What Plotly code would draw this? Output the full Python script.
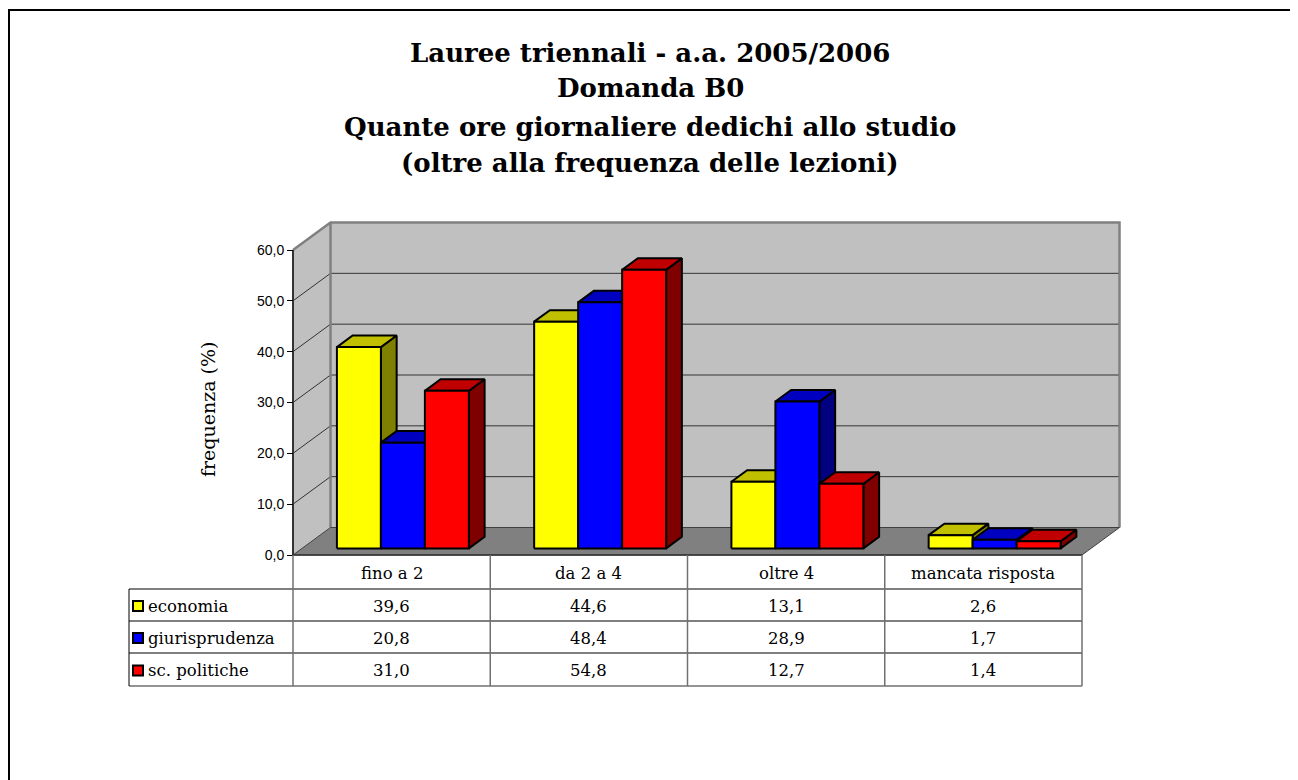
import plotly.graph_objects as go

# ---------------- data ----------------
categories = ["fino a 2", "da 2 a 4", "oltre 4", "mancata risposta"]
series_names = ["economia", "giurisprudenza", "sc. politiche"]
economia = [39.6, 44.6, 13.1, 2.6]
giurisprudenza = [20.8, 48.4, 28.9, 1.7]
sc_politiche = [31.0, 54.8, 12.7, 1.4]
y_ticks = [0, 10, 20, 30, 40, 50, 60]
title_lines = [
    "Lauree triennali - a.a. 2005/2006",
    "Domanda B0",
    "Quante ore giornaliere dedichi allo studio",
    "(oltre alla frequenza delle lezioni)",
]
y_label = "frequenza (%)"

series_values = [economia, giurisprudenza, sc_politiche]
# (front, top, side) colours
series_colors = [
    ("#FFFF00", "#C0C000", "#808000"),
    ("#0000FF", "#0000C0", "#000080"),
    ("#FF0000", "#C00000", "#800000"),
]

# ---------------- geometry (screen pixels; page body has 8px margin) ----------------
W, H = 1298, 780
OFF = 8


def fx(p):  # screen x pixel -> paper fraction
    return (p - OFF) / W


def fy(p):  # screen y pixel -> paper fraction
    return 1 - (p - OFF) / H


X0_PX = 293.0 - OFF      # figure pixel of category 0 (front plane)
CAT_PX = 197.25          # pixels per category
Y0_PX = 555.0 - OFF      # figure pixel of value 0 (front plane)
UNIT_PX = 305.0 / 60.0   # pixels per value unit
x_range = [(0 - X0_PX) / CAT_PX, (W - X0_PX) / CAT_PX]
y_range = [(Y0_PX - H) / UNIT_PX, Y0_PX / UNIT_PX]

DX = 37.5 / CAT_PX       # depth offset in x units
DY = 27.5 / UNIT_PX      # depth offset in y units
D0, D1 = 0.24, 0.66      # bar depth (front, back)
BAR_W = 0.223
BAR_OFF = 0.177
YMAX = y_ticks[-1]
NCAT = len(categories)

SERIF = "DejaVu Serif, Liberation Serif, serif"
SANS = "Liberation Sans, Arial, sans-serif"

fig = go.Figure()


def poly(xs, ys, fill, line_color="black", width=2):
    fig.add_trace(go.Scatter(
        x=xs + [xs[0]], y=ys + [ys[0]], mode="lines", fill="toself",
        fillcolor=fill, line=dict(color=line_color, width=width),
        hoverinfo="skip", showlegend=False))


def seg(xs, ys, color, width):
    fig.add_trace(go.Scatter(x=xs, y=ys, mode="lines",
                             line=dict(color=color, width=width),
                             hoverinfo="skip", showlegend=False))


# left side wall
poly([0, 0, DX, DX], [0, YMAX, YMAX + DY, DY], "#C0C0C0", "rgba(0,0,0,0)", 0)
# back wall
poly([DX, DX, NCAT + DX, NCAT + DX], [DY, YMAX + DY, YMAX + DY, DY],
     "#C0C0C0", "rgba(0,0,0,0)", 0)
# gridlines
for v in y_ticks[1:-1]:
    seg([0, DX, NCAT + DX], [v, v + DY, v + DY], "#333333", 1)
# wall borders
seg([0, DX, NCAT + DX, NCAT + DX], [YMAX, YMAX + DY, YMAX + DY, DY], "#808080", 2.5)
seg([DX, DX], [DY, YMAX + DY], "#808080", 2.5)
# floor
poly([0, NCAT, NCAT + DX, DX], [0, 0, DY, DY], "#808080", "#404040", 1)

# bars
for i in range(NCAT):
    for s, vals in enumerate(series_values):
        h = vals[i]
        front, top, side = series_colors[s]
        xl = i + BAR_OFF + s * BAR_W
        xr = xl + BAR_W
        a0x, a0y = D0 * DX, D0 * DY
        a1x, a1y = D1 * DX, D1 * DY
        poly([xr + a0x, xr + a1x, xr + a1x, xr + a0x],
             [a0y, a1y, h + a1y, h + a0y], side)
        poly([xl + a0x, xr + a0x, xr + a1x, xl + a1x],
             [h + a0y, h + a0y, h + a1y, h + a1y], top)
        poly([xl + a0x, xr + a0x, xr + a0x, xl + a0x],
             [a0y, a0y, h + a0y, h + a0y], front)

# front value axis line
seg([0, 0], [0, YMAX], "#333333", 2)

shapes = []
annotations = []

# ---------------- data table ----------------
row_px = [555, 589, 621, 653, 686]   # screen pixels
left_px = 129
right_px = 293 + NCAT * CAT_PX
TXT = 16.5
# top border (floor front edge)
shapes.append(dict(type="line", xref="x", yref="paper", x0=0, x1=NCAT,
                   y0=fy(row_px[0]), y1=fy(row_px[0]),
                   line=dict(color="#333333", width=1.5)))
for k in range(1, 4):
    shapes.append(dict(type="line", xref="paper", yref="paper",
                       x0=fx(left_px), x1=fx(right_px),
                       y0=fy(row_px[k]), y1=fy(row_px[k]),
                       line=dict(color="black", width=1)))
shapes.append(dict(type="line", xref="paper", yref="paper",
                   x0=fx(left_px), x1=fx(right_px),
                   y0=fy(row_px[4]), y1=fy(row_px[4]),
                   line=dict(color="#707070", width=1.5)))
for c in range(NCAT + 1):
    shapes.append(dict(type="line", xref="x", yref="paper", x0=c, x1=c,
                       y0=fy(row_px[0]), y1=fy(row_px[4]),
                       line=dict(color="#707070", width=1.5)))
shapes.append(dict(type="line", xref="paper", yref="paper",
                   x0=fx(left_px), x1=fx(left_px),
                   y0=fy(row_px[1]), y1=fy(row_px[4]),
                   line=dict(color="black", width=1)))

for c, name in enumerate(categories):
    annotations.append(dict(x=c + 0.5, xref="x", y=fy((row_px[0] + row_px[1]) / 2 + 1),
                            yref="paper", text=name, showarrow=False,
                            xanchor="center", yanchor="middle",
                            font=dict(family=SERIF, size=TXT, color="black")))
for r, (name, vals) in enumerate(zip(series_names, series_values)):
    yc = (row_px[r + 1] + row_px[r + 2]) / 2
    front = series_colors[r][0]
    shapes.append(dict(type="rect", xref="paper", yref="paper",
                       x0=fx(133), x1=fx(143), y0=fy(yc + 6), y1=fy(yc - 4),
                       fillcolor=front, line=dict(color="black", width=2)))
    annotations.append(dict(x=fx(146), xref="paper", y=fy(yc + 1), yref="paper",
                            text=name, showarrow=False, xanchor="left", yanchor="middle",
                            font=dict(family=SERIF, size=TXT, color="black")))
    for c, v in enumerate(vals):
        annotations.append(dict(x=c + 0.5, xref="x", y=fy(yc + 1), yref="paper",
                                text=f"{v:.1f}".replace(".", ","), showarrow=False,
                                xanchor="center", yanchor="middle",
                                font=dict(family=SERIF, size=TXT, color="black")))

# title
title_y = [53, 88, 127, 163]
for line, ty in zip(title_lines, title_y):
    annotations.append(dict(x=fx(650), xref="paper", y=fy(ty), yref="paper",
                            text=f"<b>{line}</b>", showarrow=False,
                            xanchor="center", yanchor="middle",
                            font=dict(family=SERIF, size=26, color="black")))

# y axis title
annotations.append(dict(x=fx(208), xref="paper", y=fy(409), yref="paper",
                        text=y_label, showarrow=False, textangle=-90,
                        xanchor="center", yanchor="middle",
                        font=dict(family=SERIF, size=19, color="black")))

# outer frame
shapes.append(dict(type="rect", xref="paper", yref="paper",
                   x0=fx(9), x1=1.02, y0=-0.02, y1=fy(10),
                   line=dict(color="black", width=2)))

fig.update_layout(
    width=W, height=H,
    margin=dict(l=0, r=0, t=0, b=0),
    paper_bgcolor="white", plot_bgcolor="white",
    showlegend=False,
    separators=",.",
    xaxis=dict(range=x_range, visible=False, fixedrange=True),
    yaxis=dict(range=y_range, tickvals=y_ticks, tickformat=".1f",
               ticks="outside", ticklen=6, tickwidth=1, tickcolor="black",
               showline=False, showgrid=False, zeroline=False,
               anchor="free", position=X0_PX / W, fixedrange=True,
               tickfont=dict(family=SANS, size=14, color="black")),
    shapes=shapes,
    annotations=annotations,
)

fig.write_html("out.html")
